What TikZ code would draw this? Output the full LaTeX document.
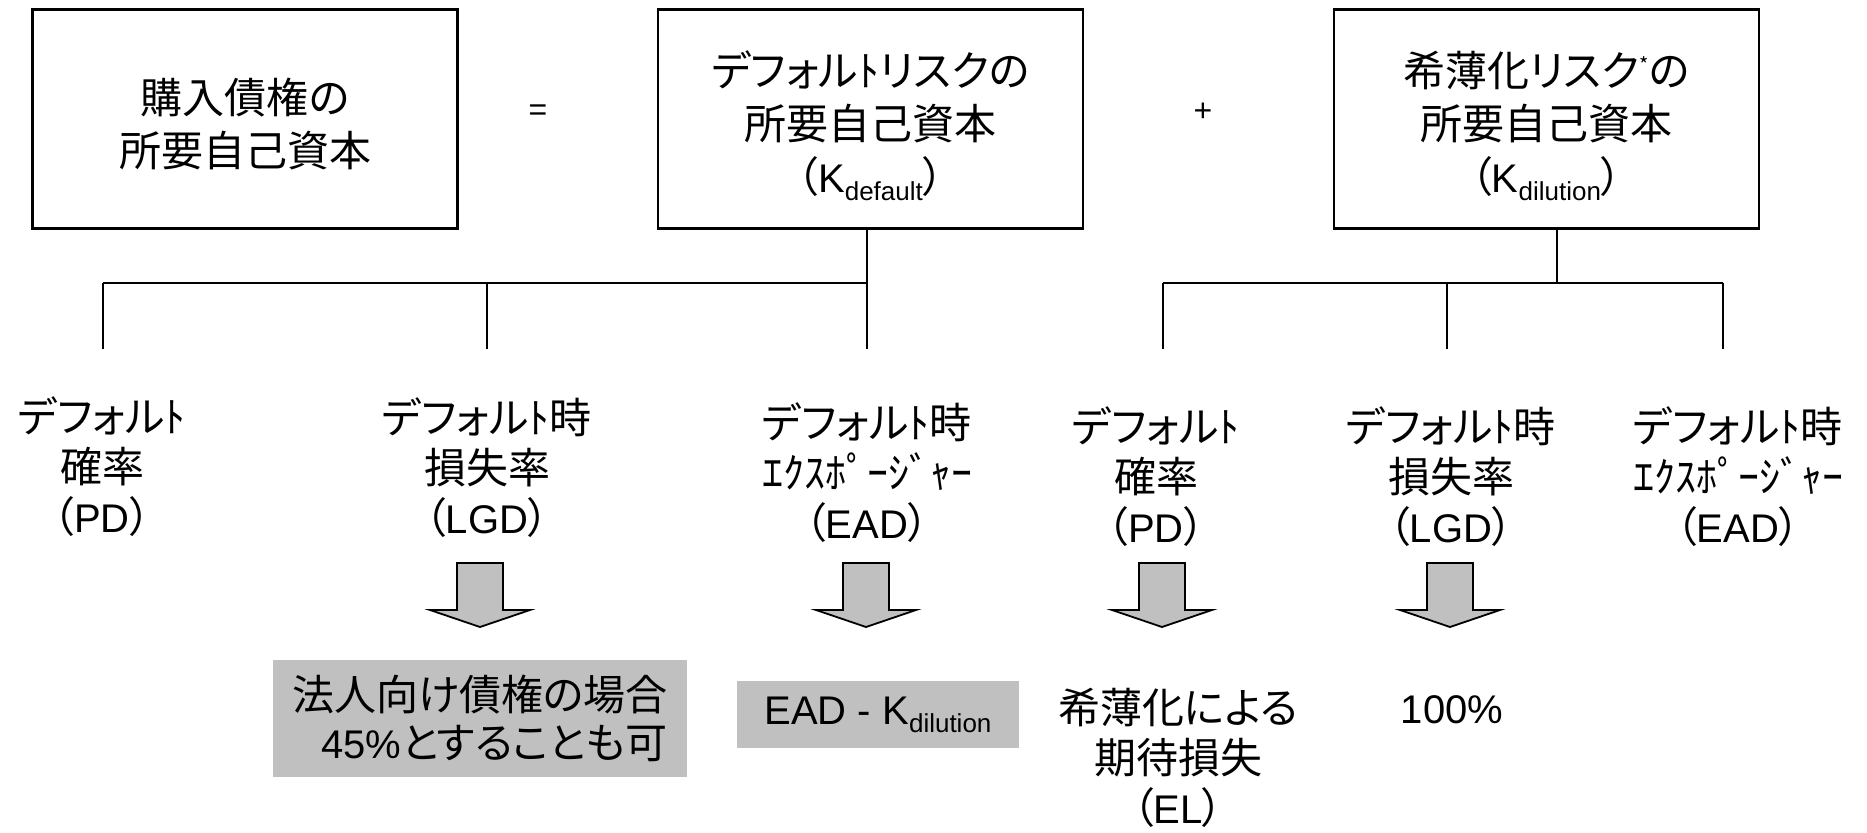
\documentclass[tikz,border=0pt]{standalone}
\usepackage{fontspec}
\setmainfont{Noto Sans CJK JP}[RawFeature=+palt]
\newfontfamily\lat{Liberation Sans}
\definecolor{boxgray}{HTML}{C0C0C0}
\newcommand\La[1]{{\lat\fontsize{40}{40}\selectfont #1}}
\newcommand\Lb[1]{{\lat\fontsize{40}{40}\selectfont #1}}
\newcommand\mysub[1]{\raisebox{-8pt}{\lat\fontsize{26}{26}\selectfont #1}}
\newcommand\blkarrow[1]{\draw[blk] ({#1-23},563) -- ({#1+23},563) -- ({#1+23},610) -- ({#1+50},610) -- (#1,627) -- ({#1-50},610) -- ({#1-23},610) -- cycle;}
\tikzset{
  jp/.style={font=\fontsize{42}{50}\selectfont, align=center, inner sep=0pt},
  topbox/.style={draw, line width=2.2pt, minimum width=425pt, minimum height=219pt, inner sep=0pt},
  boxtext/.style={align=center, inner sep=0pt, font=\fontsize{42}{53}\selectfont},
  tree/.style={line width=2pt},
  blk/.style={draw, line width=1.8pt, fill=boxgray, line join=miter},
  graybox/.style={fill=boxgray, inner sep=0pt, align=right, font=\fontsize{42}{48}\selectfont}
}
\begin{document}
\begin{tikzpicture}[x=1pt,y=-1pt]
\useasboundingbox (0,0) rectangle (1867,832);
% top boxes
\node[topbox] (b1) at (245,119) {};
\node[topbox] (b2) at (870.5,119) {};
\node[topbox] (b3) at (1546.5,119) {};
\node[boxtext] (t1) at (245,124) {購入債権の\\所要自己資本};
\node[boxtext] (t2) at (870.5,126) {デフォルﾄリスクの\\所要自己資本\\（\Lb{K}\mysub{default}）};
\node[boxtext] (t3) at (1546.5,126) {希薄化リスク\raisebox{14pt}{\fontsize{20}{20}\selectfont *}の\\所要自己資本\\（\Lb{K}\mysub{dilution}）};
\node[inner sep=0pt] (eq) at (538,113) {\lat\fontsize{32}{32}\selectfont =};
\node[inner sep=0pt] (plus) at (1203,112) {\lat\fontsize{32}{32}\selectfont +};
% tree coordinates
\coordinate (j1) at (866.5,282.5);
\coordinate (l1) at (102.5,282.5);
\coordinate (m1) at (487,282.5);
\coordinate (e1) at (866.5,349);
\coordinate (j2) at (1557,282.5);
\coordinate (l2) at (1162.5,282.5);
\coordinate (m2) at (1447,282.5);
\coordinate (r2) at (1723,282.5);
\coordinate (e2) at (1557,349);
\draw[tree] (j1 |- b2.south) -- (j1);
\draw[tree] (l1) -- (j1) -- (e1);
\draw[tree] (l1) -- (l1 |- e1);
\draw[tree] (m1) -- (m1 |- e1);
\draw[tree] (j2 |- b3.south) -- (j2);
\draw[tree] (l2) -- (r2);
\draw[tree] (l2) -- (l2 |- e2);
\draw[tree] (m2) -- (m2 |- e2);
\draw[tree] (r2) -- (r2 |- e2);
% labels
\node[jp] (pd1) at (102,467) {デフォルﾄ\\確率\\（\La{PD}）};
\node[jp] (lgd1) at (487,468) {デフォルﾄ時\\損失率\\（\La{LGD}）};
\node[jp] (ead1) at (867,473) {デフォルﾄ時\\ｴｸｽﾎﾟｰｼﾞｬｰ\\（\La{EAD}）};
\node[jp] (pd2) at (1156,477) {デフォルﾄ\\確率\\（\La{PD}）};
\node[jp] (lgd2) at (1451,477) {デフォルﾄ時\\損失率\\（\La{LGD}）};
\node[jp] (ead2) at (1738,477) {デフォルﾄ時\\ｴｸｽﾎﾟｰｼﾞｬｰ\\（\La{EAD}）};
% block arrows
\blkarrow{480}
\blkarrow{866}
\blkarrow{1162}
\blkarrow{1450}
% results
\node[graybox, minimum width=414pt, minimum height=117pt] (lgdbox) at (480,718.5) {法人向け債権の場合\\\La{45\%}とすることも可};
\node[graybox, minimum width=282pt, minimum height=67pt] (eadbox) at (878,714.5) {\La{EAD - K}\mysub{dilution}};
\node[jp] (el) at (1178,758) {希薄化による\\期待損失\\（\La{EL}）};
\node[inner sep=0pt] (hund) at (1452,710) {\La{100\%}};
\end{tikzpicture}
\end{document}
